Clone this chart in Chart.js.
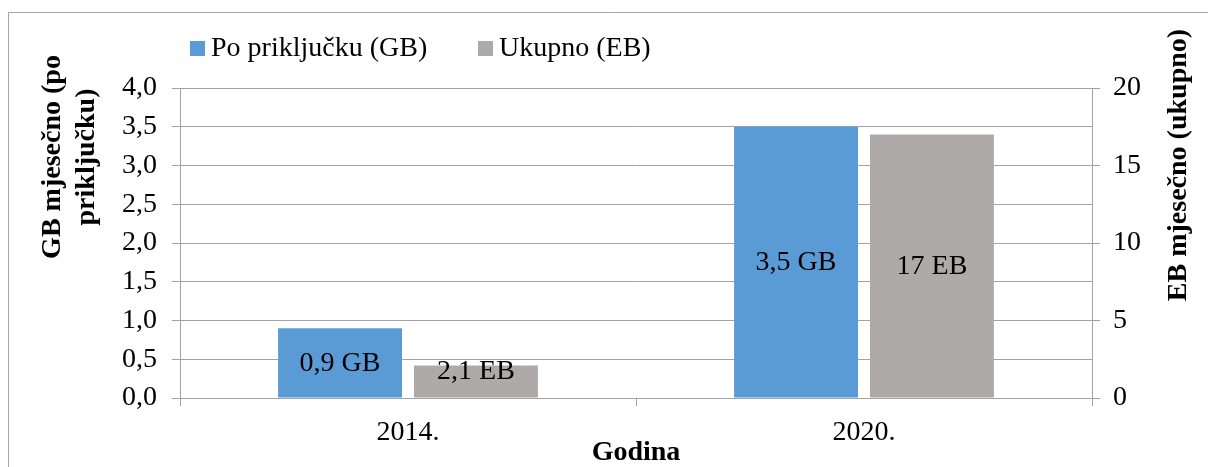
<!DOCTYPE html>
<html>
<head>
<meta charset="utf-8">
<script src="https://cdn.jsdelivr.net/npm/chart.js@4/dist/chart.umd.min.js"></script>
<style>
  html, body { margin: 0; padding: 0; background: #ffffff; }
  #wrap { width: 1208px; height: 467px; position: relative; }
</style>
</head>
<body>
<div id="wrap"><canvas id="c" width="1208" height="467"></canvas></div>
<script>
// ---- data ----
const categories = ['2014.', '2020.'];
const perConnectionGB = [0.9, 3.5];
const totalEB = [2.1, 17];
const labelsGB = ['0,9 GB', '3,5 GB'];
const labelsEB = ['2,1 EB', '17 EB'];
const seriesNames = ['Po priključku (GB)', 'Ukupno (EB)'];
const leftTicksMax = 4;
const rightTicksMax = 20;

const FONT = '"Liberation Serif", "Times New Roman", serif';
const GRID = '#a3a3a3';
const BLUE = '#5B9BD5';
const GRAY = '#AEAAAA';

const decorPlugin = {
  id: 'decor',
  afterDraw(chart) {
    const ctx = chart.ctx;
    ctx.save();
    // outer chart border (left and top edges visible)
    ctx.strokeStyle = '#a6a6a6';
    ctx.lineWidth = 1;
    ctx.beginPath();
    ctx.moveTo(8.5, 467);
    ctx.lineTo(8.5, 12.5);
    ctx.lineTo(1208, 12.5);
    ctx.stroke();

    // data labels
    const labelSets = [labelsGB, labelsEB];
    ctx.fillStyle = '#000';
    ctx.font = '28px ' + FONT;
    ctx.textAlign = 'center';
    ctx.textBaseline = 'middle';
    chart.data.datasets.forEach((ds, i) => {
      const meta = chart.getDatasetMeta(i);
      meta.data.forEach((bar, j) => {
        let y = (bar.y + bar.base) / 2;
        y = Math.min(y, bar.base - 27);
        ctx.fillText(labelSets[i][j], bar.x, y + 1);
      });
    });

    // legend
    const items = [
      { box: 190, text: 211, color: BLUE, label: chart.data.datasets[0].label },
      { box: 478, text: 499, color: GRAY, label: chart.data.datasets[1].label }
    ];
    ctx.textAlign = 'left';
    items.forEach(it => {
      ctx.fillStyle = it.color;
      ctx.fillRect(it.box, 41, 15, 15);
      ctx.fillStyle = '#000';
      ctx.fillText(it.label, it.text, 49);
    });

    // axis titles (y)
    ctx.font = 'bold 28px ' + FONT;
    ctx.textAlign = 'center';
    ctx.textBaseline = 'middle';
    const rot = (txt, x, y) => {
      ctx.save();
      ctx.translate(x, y);
      ctx.rotate(-Math.PI / 2);
      ctx.fillText(txt, 0, 0);
      ctx.restore();
    };
    rot('GB mjesečno (po', 53, 157);
    rot('priključku)', 87, 157);
    rot('EB mjesečno (ukupno)', 1179, 165);
    ctx.restore();
  }
};

const fmt = v => Number(v).toFixed(1).replace('.', ',');

new Chart(document.getElementById('c'), {
  type: 'bar',
  data: {
    labels: categories,
    datasets: [
      { label: seriesNames[0], data: perConnectionGB, backgroundColor: BLUE, yAxisID: 'y',
        categoryPercentage: 0.596, barPercentage: 0.912 },
      { label: seriesNames[1], data: totalEB, backgroundColor: GRAY, yAxisID: 'y1',
        categoryPercentage: 0.596, barPercentage: 0.912 }
    ]
  },
  options: {
    responsive: false,
    animation: false,
    layout: { padding: { top: 88, left: 0, right: 0, bottom: 0 } },
    plugins: { legend: { display: false }, tooltip: { enabled: false } },
    scales: {
      x: {
        offset: true,
        grid: { display: true, offset: true, drawOnChartArea: false, drawTicks: true, tickLength: 8, color: GRID },
        border: { display: true, color: GRID },
        ticks: { color: '#000', font: { family: FONT, size: 28 }, padding: 10 },
        title: { display: true, text: 'Godina', color: '#000', font: { family: FONT, size: 28, weight: 'bold', lineHeight: 1.0 }, padding: { top: 0, bottom: 0 } },
        afterFit(s) { s.height = 69; }
      },
      y: {
        position: 'left',
        min: 0, max: leftTicksMax,
        ticks: { stepSize: 0.5, color: '#000', font: { family: FONT, size: 28 }, padding: 15, callback: v => fmt(v) },
        grid: { color: GRID, tickLength: 8, drawTicks: true },
        border: { display: true, color: GRID },
        afterFit(s) { s.width = 180; }
      },
      y1: {
        position: 'right',
        min: 0, max: rightTicksMax,
        ticks: { stepSize: 5, color: '#000', font: { family: FONT, size: 28 }, padding: 13 },
        grid: { drawOnChartArea: false, color: GRID, tickLength: 8, drawTicks: true },
        border: { display: true, color: GRID },
        afterFit(s) { s.width = 116; }
      }
    }
  },
  plugins: [decorPlugin]
});
</script>
</body>
</html>
